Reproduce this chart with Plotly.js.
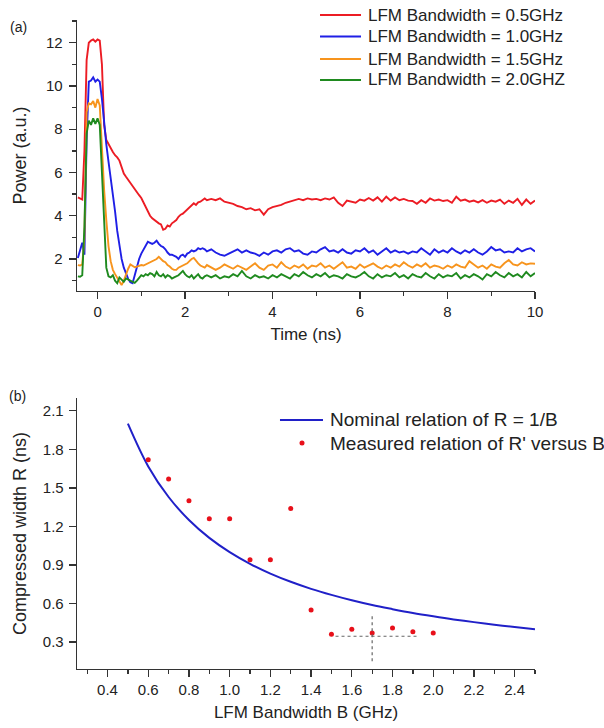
<!DOCTYPE html>
<html>
<head>
<meta charset="utf-8">
<script src="https://cdn.plot.ly/plotly-3.0.1.min.js"></script>
<style>html,body{margin:0;padding:0;background:#fff;}#chart{width:604px;height:728px;}</style>
</head>
<body>
<div id="chart"></div>
<script>
// ---------- Panel (a): time traces ----------
const time_ns = [
 -0.45,-0.40,-0.35,-0.30,-0.25,-0.20,-0.15,-0.10,-0.05,0.00,
 0.05,0.10,0.15,0.20,0.25,0.30,0.35,0.40,0.45,0.50,
 0.55,0.60,0.65,0.70,0.75,0.80,0.85,0.90,0.95,1.00,
 1.05,1.10,1.15,1.20,1.25,1.30,1.35,1.40,1.45,1.50,
 1.55,1.60,1.65,1.70,1.75,1.80,1.85,1.90,1.95,2.00,
 2.05,2.10,2.15,2.20,2.25,2.30,2.35,2.40,2.45,2.50,
 2.6,2.7,2.8,2.9,3.0,3.1,3.2,3.3,3.4,3.5,
 3.6,3.7,3.8,3.9,4.0,4.1,4.2,4.3,4.4,4.5,
 4.6,4.7,4.8,4.9,5.0,5.1,5.2,5.3,5.4,5.5,
 5.6,5.7,5.8,5.9,6.0,6.1,6.2,6.3,6.4,6.5,
 6.6,6.7,6.8,6.9,7.0,7.1,7.2,7.3,7.4,7.5,
 7.6,7.7,7.8,7.9,8.0,8.1,8.2,8.3,8.4,8.5,
 8.6,8.7,8.8,8.9,9.0,9.1,9.2,9.3,9.4,9.5,
 9.6,9.7,9.8,9.9,10.0
];
const power_05GHz = [
 4.85,4.80,4.75,7.00,11.2,12.0,12.1,12.15,12.05,12.15,
 12.1,11.0,8.2,7.5,7.3,7.1,6.95,6.8,6.7,6.55,
 6.2,5.95,5.8,5.65,5.5,5.35,5.2,5.05,4.95,4.82,
 4.6,4.4,4.2,4.0,3.88,3.8,3.7,3.65,3.6,3.35,
 3.4,3.55,3.5,3.65,3.72,3.8,3.95,4.05,4.1,4.2,
 4.3,4.4,4.5,4.58,4.5,4.62,4.65,4.72,4.8,4.72,
 4.78,4.72,4.8,4.65,4.6,4.55,4.45,4.4,4.3,4.35,
 4.25,4.3,4.05,4.3,4.4,4.45,4.5,4.6,4.65,4.7,
 4.78,4.72,4.8,4.75,4.78,4.72,4.8,4.75,4.85,4.6,
 4.45,4.7,4.65,4.6,4.75,4.7,4.82,4.7,4.85,4.65,
 4.88,4.7,4.85,4.72,4.78,4.7,4.68,4.55,4.72,4.6,
 4.8,4.7,4.75,4.68,4.72,4.6,4.88,4.7,4.75,4.65,
 4.7,4.62,4.72,4.6,4.7,4.65,4.75,4.55,4.7,4.6,
 4.78,4.5,4.75,4.55,4.7
];
const power_10GHz = [
 2.05,2.4,2.75,2.2,7.5,10.2,10.25,10.4,10.2,10.3,
 10.2,9.4,8.2,7.3,6.5,5.8,5.0,4.2,3.3,2.6,
 2.0,1.6,1.3,1.08,0.93,0.88,1.25,1.64,2.0,2.25,
 2.45,2.65,2.8,2.75,2.7,2.75,2.85,2.7,2.6,2.55,
 2.45,2.3,2.2,2.2,2.15,2.1,2.0,2.15,2.2,2.1,
 2.25,2.3,2.4,2.35,2.4,2.5,2.45,2.5,2.45,2.35,
 2.45,2.3,2.2,2.15,2.25,2.35,2.45,2.3,2.4,2.3,
 2.25,2.15,2.3,2.2,2.35,2.4,2.3,2.45,2.5,2.35,
 2.4,2.25,2.2,2.35,2.3,2.45,2.55,2.35,2.4,2.3,
 2.45,2.3,2.25,2.4,2.35,2.5,2.3,2.4,2.2,2.35,
 2.5,2.3,2.4,2.3,2.35,2.25,2.35,2.3,2.5,2.35,
 2.2,2.45,2.3,2.4,2.3,2.5,2.35,2.25,2.4,2.3,
 2.45,2.3,2.2,2.35,2.55,2.4,2.45,2.3,2.35,2.3,
 2.5,2.35,2.45,2.5,2.35
];
const power_15GHz = [
 1.72,1.7,1.75,3.0,8.8,9.2,9.15,9.3,9.0,9.4,
 9.1,7.0,5.2,3.8,2.6,1.9,1.5,1.3,1.15,1.0,
 0.8,1.0,1.3,1.55,1.75,1.7,1.62,1.65,1.7,1.72,
 1.7,1.75,1.8,1.85,1.9,1.95,2.0,2.1,2.0,1.9,
 1.85,1.72,1.65,1.55,1.5,1.5,1.6,1.65,1.7,1.72,
 1.8,1.9,2.0,2.05,1.9,1.8,1.7,1.65,1.6,1.72,
 1.6,1.5,1.6,1.75,1.65,1.55,1.7,1.6,1.5,1.65,
 1.8,1.6,1.5,1.7,1.75,1.6,1.85,1.65,1.55,1.7,
 1.6,1.75,1.55,1.7,1.65,1.8,1.6,1.7,1.55,1.7,
 1.85,1.6,1.65,1.55,1.75,1.6,1.7,1.8,1.65,1.55,
 1.7,1.6,1.75,1.65,1.85,1.7,1.6,1.75,1.65,1.8,
 1.6,1.7,1.65,1.55,1.7,1.6,1.75,1.65,1.6,1.9,
 1.75,1.6,1.7,1.55,1.75,1.65,1.6,1.8,1.95,1.75,
 1.7,1.85,1.75,1.8,1.78
];
const power_20GHz = [
 1.2,1.18,1.25,3.5,7.8,8.4,8.2,8.5,8.25,8.5,
 8.2,6.0,3.5,1.6,1.2,1.15,1.25,1.0,0.88,1.15,
 1.05,0.95,1.1,1.05,1.0,0.95,0.9,1.0,1.15,1.25,
 1.2,1.3,1.25,1.35,1.3,1.2,1.4,1.25,1.2,1.3,
 1.15,1.25,1.2,1.1,1.15,1.2,1.25,1.35,1.45,1.3,
 1.2,1.15,1.25,1.1,1.2,1.3,1.15,1.1,1.2,1.25,
 1.15,1.25,1.1,1.2,1.15,1.3,1.2,1.45,1.2,1.1,
 1.25,1.15,1.2,1.1,1.25,1.15,1.3,1.2,1.1,1.3,
 1.2,1.4,1.25,1.15,1.3,1.2,1.35,1.15,1.25,1.2,
 1.1,1.3,1.2,1.15,1.25,1.4,1.2,1.1,1.3,1.15,
 1.25,1.2,1.35,1.15,1.25,1.1,1.3,1.2,1.15,1.35,
 1.2,1.1,1.3,1.15,1.25,1.2,1.35,1.1,1.25,1.15,
 1.3,1.2,1.05,1.3,1.2,1.4,1.25,1.15,1.35,1.2,
 1.3,1.15,1.4,1.2,1.35
];
const traceNamesA = ["LFM Bandwidth = 0.5GHz","LFM Bandwidth = 1.0GHz","LFM Bandwidth = 1.5GHz","LFM Bandwidth = 2.0GHZ"];

// ---------- Panel (b): compressed width ----------
const B_nominal = [0.5,0.6,0.7,0.8,0.9,1.0,1.1,1.2,1.3,1.4,1.5,1.6,1.7,1.8,1.9,2.0,2.1,2.2,2.3,2.4,2.5];
const R_nominal = [2.0,1.667,1.429,1.25,1.111,1.0,0.909,0.833,0.769,0.714,0.667,0.625,0.588,0.556,0.526,0.5,0.476,0.455,0.435,0.417,0.4];
const B_measured = [0.6,0.7,0.8,0.9,1.0,1.1,1.2,1.3,1.4,1.5,1.6,1.7,1.8,1.9,2.0];
const R_measured = [1.72,1.57,1.40,1.26,1.26,0.94,0.94,1.34,0.55,0.36,0.40,0.37,0.41,0.38,0.37];
const crossH_B = [1.52,1.92];
const crossH_R = [0.345,0.345];
const crossV_B = [1.7,1.7];
const crossV_R = [0.5,0.14];
const traceNamesB = ["Nominal relation of R = 1/B","Measured relation of R' versus B"];

const FONT = "Liberation Sans, Arial, sans-serif";
const TXT = "#222";
const colorsA = ["#ec1c24","#1f1fe6","#f7941d","#1f8a1f"];
const seriesA = [power_05GHz,power_10GHz,power_15GHz,power_20GHz];
const colorNominal = "#2020c8", colorMeasured = "#e8101a";

const traces = seriesA.map((v,i)=>({
  type:"scatter", mode:"lines", x:time_ns, y:v, name:traceNamesA[i],
  xaxis:"x", yaxis:"y", showlegend:false,
  line:{color:colorsA[i], width:1.9}
}));
traces.push({type:"scatter", mode:"lines", x:B_nominal, y:R_nominal, name:traceNamesB[0],
  xaxis:"x2", yaxis:"y2", showlegend:false, line:{color:colorNominal, width:2, shape:"spline"}});
traces.push({type:"scatter", mode:"markers", x:B_measured, y:R_measured, name:traceNamesB[1],
  xaxis:"x2", yaxis:"y2", showlegend:false, marker:{color:colorMeasured, size:5}});
traces.push({type:"scatter", mode:"lines", x:crossH_B, y:crossH_R, showlegend:false, hoverinfo:"skip",
  xaxis:"x2", yaxis:"y2", line:{color:"#666", width:1.2, dash:"dot"}});
traces.push({type:"scatter", mode:"lines", x:crossV_B, y:crossV_R, showlegend:false, hoverinfo:"skip",
  xaxis:"x2", yaxis:"y2", line:{color:"#666", width:1.2, dash:"dot"}});

const minorStyle = {ticklen:4, tickwidth:1.3, tickcolor:"#333", ticks:"outside"};
const axBase = {
  showline:true, linecolor:"#333", linewidth:1.3, ticks:"outside", ticklen:7, tickwidth:1.3,
  tickcolor:"#333", showgrid:false, zeroline:false, mirror:false,
  tickfont:{family:FONT, size:15, color:TXT}
};

// ---- custom legends (paper coordinates) ----
const shapes = [], annotations = [];
const legA = {x0:0.5306, x1:0.6201, xt:0.631, ys:[1.0077,0.9746,0.9399,0.9076]};
traceNamesA.forEach((nm,i)=>{
  shapes.push({type:"line", xref:"paper", yref:"paper", x0:legA.x0, x1:legA.x1, y0:legA.ys[i], y1:legA.ys[i],
    line:{color:colorsA[i], width:2}});
  annotations.push({text:nm, xref:"paper", yref:"paper", x:legA.xt, y:legA.ys[i], xanchor:"left", yanchor:"middle",
    showarrow:false, font:{family:FONT, size:17, color:TXT}});
});
const legB = {x0:0.4432, x1:0.5371, xt:0.548, ys:[0.3837,0.3482], xd:0.4913};
shapes.push({type:"line", xref:"paper", yref:"paper", x0:legB.x0, x1:legB.x1, y0:legB.ys[0], y1:legB.ys[0],
  line:{color:colorNominal, width:2}});
shapes.push({type:"circle", xref:"paper", yref:"paper", x0:legB.xd-0.0055, x1:legB.xd+0.0055,
  y0:legB.ys[1]-0.0039, y1:legB.ys[1]+0.0039, fillcolor:colorMeasured, line:{width:0}});
traceNamesB.forEach((nm,i)=>{
  annotations.push({text:nm, xref:"paper", yref:"paper", x:legB.xt, y:legB.ys[i], xanchor:"left", yanchor:"middle",
    showarrow:false, font:{family:FONT, size:19, color:TXT}});
});
annotations.push({text:"(a)", xref:"paper", yref:"paper", x:-0.127, y:0.989, xanchor:"center", yanchor:"middle", showarrow:false, font:{family:FONT, size:14, color:TXT}});
annotations.push({text:"(b)", xref:"paper", yref:"paper", x:-0.131, y:0.4206, xanchor:"center", yanchor:"middle", showarrow:false, font:{family:FONT, size:14, color:TXT}});

const layout = {
  width:604, height:728,
  margin:{l:77, r:69, t:20, b:59},
  paper_bgcolor:"#fff", plot_bgcolor:"#fff",
  font:{family:FONT, color:TXT},
  showlegend:false,
  xaxis: Object.assign({}, axBase, {
    domain:[0,1], anchor:"y", range:[-0.47,10], tick0:0, dtick:2,
    minor:Object.assign({dtick:1, tick0:0}, minorStyle),
    title:{text:"Time (ns)", font:{family:FONT, size:17, color:TXT}, standoff:8}
  }),
  yaxis: Object.assign({}, axBase, {
    domain:[0.5824,1], anchor:"x", range:[0.52,13.05], ticklabelstandoff:3,
    tickvals:[2,4,6,8,10,12],
    minor:Object.assign({tickvals:[1,3,5,7,9,11,13]}, minorStyle),
    title:{text:"Power (a.u.)", font:{family:FONT, size:18, color:TXT}, standoff:14}
  }),
  xaxis2: Object.assign({}, axBase, {
    domain:[0,1], anchor:"y2", range:[0.25,2.5], tickvals:[0.4,0.6,0.8,1.0,1.2,1.4,1.6,1.8,2.0,2.2,2.4],
    ticktext:["0.4","0.6","0.8","1.0","1.2","1.4","1.6","1.8","2.0","2.2","2.4"],
    minor:Object.assign({tickvals:[0.3,0.5,0.7,0.9,1.1,1.3,1.5,1.7,1.9,2.1,2.3,2.5]}, minorStyle),
    title:{text:"LFM Bandwidth B (GHz)", font:{family:FONT, size:17, color:TXT}, standoff:8}
  }),
  yaxis2: Object.assign({}, axBase, {
    domain:[0,0.4176], anchor:"x2", range:[0.09,2.2], ticklabelstandoff:2,
    tickvals:[0.3,0.6,0.9,1.2,1.5,1.8,2.1], ticktext:["0.3","0.6","0.9","1.2","1.5","1.8","2.1"],
    title:{text:"Compressed width R (ns)", font:{family:FONT, size:18, color:TXT}, standoff:11}
  }),
  shapes: shapes,
  annotations: annotations
};

Plotly.newPlot("chart", traces, layout, {staticPlot:true, displayModeBar:false});
</script>
</body>
</html>
